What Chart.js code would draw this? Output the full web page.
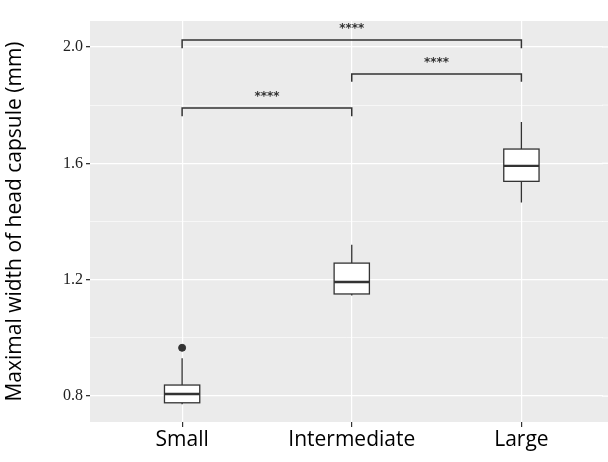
<!DOCTYPE html>
<html><head><script src="https://cdn.jsdelivr.net/npm/chart.js@4"></script>
<style>html,body{margin:0;padding:0;background:#fff;overflow:hidden}</style></head>
<body><canvas id="c" width="608" height="462" style="display:block"></canvas>
<script>
const categories=["Small","Intermediate","Large"];
const whiskerLow=[0.772,1.146,1.465];
const q1=[0.777,1.151,1.538];
const median=[0.807,1.192,1.591];
const q3=[0.838,1.257,1.649];
const whiskerHigh=[0.93,1.32,1.742];
const outliers=[{x:1,y:0.966}];
const brackets=[{from:1,to:3,y:2.024,tip:1.995,label:"****"},{from:2,to:3,y:1.907,tip:1.88,label:"****"},{from:1,to:2,y:1.79,tip:1.762,label:"****"}];
const yTicks=[0.8,1.2,1.6,2.0];
const isMajor=v=>yTicks.some(t=>Math.abs(t-v)<1e-6);

const boxPlugin={id:'box',
beforeDraw(ch){const a=ch.chartArea,c=ch.ctx,y=ch.scales.y;c.save();c.fillStyle='#EBEBEB';c.fillRect(a.left,a.top,ch.width-a.left,a.bottom-a.top);
 c.strokeStyle='#fff';y.ticks.forEach(t=>{const p=y.getPixelForValue(t.value);c.lineWidth=isMajor(t.value)?1.3:0.6;c.beginPath();c.moveTo(a.right-1,p);c.lineTo(ch.width,p);c.stroke();});
 c.restore();},
afterDatasetsDraw(ch){const c=ch.ctx,x=ch.scales.x,y=ch.scales.y;c.save();c.strokeStyle='#333';c.lineWidth=1.3;
 categories.forEach((n,i)=>{const cx=x.getPixelForValue(i+1),hw=x.getPixelForValue(i+1.104)-cx;
  c.beginPath();c.moveTo(cx,y.getPixelForValue(whiskerHigh[i]));c.lineTo(cx,y.getPixelForValue(q3[i]));
  c.moveTo(cx,y.getPixelForValue(q1[i]));c.lineTo(cx,y.getPixelForValue(whiskerLow[i]));c.stroke();
  const t=y.getPixelForValue(q3[i]),b=y.getPixelForValue(q1[i]);
  c.fillStyle='#fff';c.fillRect(cx-hw,t,2*hw,b-t);c.strokeRect(cx-hw,t,2*hw,b-t);
  c.lineWidth=2.4;c.beginPath();const m=y.getPixelForValue(median[i]);c.moveTo(cx-hw,m);c.lineTo(cx+hw,m);c.stroke();c.lineWidth=1.3;});
 c.lineWidth=1.5;c.fillStyle='#333';c.font='bold 12px "DejaVu Sans"';c.textAlign='center';c.textBaseline='bottom';
 brackets.forEach(b=>{const x1=x.getPixelForValue(b.from),x2=x.getPixelForValue(b.to),yy=y.getPixelForValue(b.y),yt=y.getPixelForValue(b.tip);
  c.beginPath();c.moveTo(x1,yt);c.lineTo(x1,yy);c.lineTo(x2,yy);c.lineTo(x2,yt);c.stroke();
  c.fillText(b.label,(x1+x2)/2,yy-5);});
 c.restore();}};

new Chart(document.getElementById('c'),{type:'scatter',
data:{datasets:[{data:outliers,backgroundColor:'#333',borderColor:'#333',pointRadius:3.5}]},
options:{responsive:false,animation:false,
layout:{padding:{top:21,right:0,left:2,bottom:0}},
plugins:{legend:{display:false},tooltip:{enabled:false}},
scales:{
x:{type:'linear',min:0.457,max:3.481,
 afterBuildTicks(s){s.ticks=[1,2,3].map(v=>({value:v}));},
 afterFit(s){s.height=40;s.paddingLeft=0;s.paddingRight=0;},
 ticks:{callback:v=>categories[v-1],color:'#000',font:{size:21,family:'"Open Sans"'},padding:0,maxRotation:0,autoSkip:false},
 grid:{color:'#fff',lineWidth:1.2,tickColor:'#333',tickLength:5,drawTicks:true},border:{display:false}},
y:{min:0.711,max:2.089,
 afterBuildTicks(s){s.ticks=[0.8,1.0,1.2,1.4,1.6,1.8,2.0].map(v=>({value:v}));},
 afterFit(s){s.width=88;s.paddingTop=0;s.paddingBottom=0;},
 ticks:{callback:v=>isMajor(v)?v.toFixed(1):'',color:'#222',font:{size:16,family:'"Liberation Serif"'},padding:3},
 grid:{color:'#fff',lineWidth:c=>isMajor(c.tick&&c.tick.value)?1.3:0.6,tickColor:c=>isMajor(c.tick&&c.tick.value)?'#333':'rgba(0,0,0,0)',tickLength:4},
 border:{display:false},
 title:{display:true,text:'Maximal width of head capsule (mm)',color:'#000',font:{size:21,family:'"Open Sans"'},padding:{top:0,bottom:4}}}}},
plugins:[boxPlugin]});
</script></body></html>
